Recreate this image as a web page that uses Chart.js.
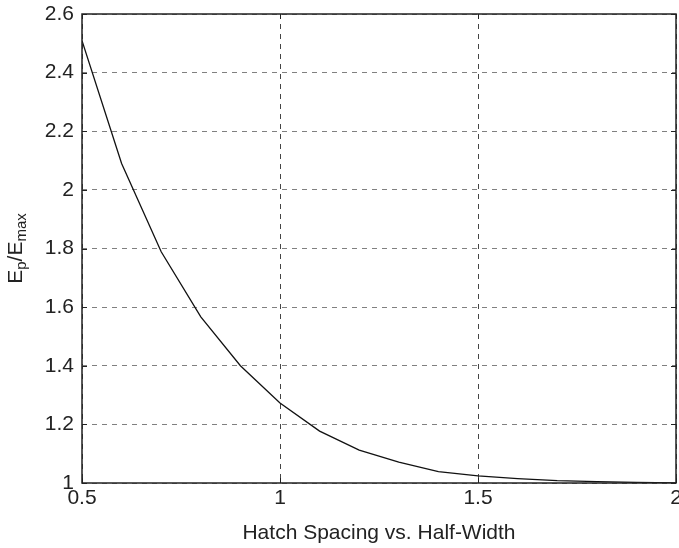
<!DOCTYPE html>
<html>
<head>
<meta charset="utf-8">
<script src="https://cdn.jsdelivr.net/npm/chart.js@4/dist/chart.umd.min.js"></script>
<style>
html,body{margin:0;padding:0;background:#fff;}
#wrap{width:679px;height:548px;position:relative;}
</style>
</head>
<body>
<div id="wrap"><canvas id="c" width="679" height="548"></canvas></div>
<script>
// Data
const hatchSpacing = [0.5, 0.6, 0.7, 0.8, 0.9, 1.0, 1.1, 1.2, 1.3, 1.4, 1.5, 1.6, 1.7, 1.8, 1.9, 2.0];
const fieldRatio   = [2.509, 2.09, 1.789, 1.567, 1.40, 1.273, 1.177, 1.112, 1.071, 1.039, 1.024, 1.015, 1.008, 1.005, 1.002, 1.0];
const xTickValues = [0.5, 1, 1.5, 2];
const yTickValues = [1, 1.2, 1.4, 1.6, 1.8, 2, 2.2, 2.4, 2.6];
const xAxisTitle = 'Hatch Spacing vs. Half-Width';
const yTitleParts = [['E', false], ['p', true], ['/E', false], ['max', true]];

const FONT = '"Liberation Sans", Arial, Helvetica, sans-serif';

const boxPlugin = {
  id: 'box',
  afterDraw(chart) {
    const {ctx, chartArea: a, scales} = chart;
    ctx.save();
    // inward tick marks
    ctx.strokeStyle = '#222';
    ctx.lineWidth = 1;
    const tl = 5;
    xTickValues.forEach(v => {
      const px = Math.round(scales.x.getPixelForValue(v)) + 0.5;
      ctx.beginPath();
      ctx.moveTo(px, a.bottom); ctx.lineTo(px, a.bottom - tl);
      ctx.moveTo(px, a.top); ctx.lineTo(px, a.top + tl);
      ctx.stroke();
    });
    yTickValues.forEach(v => {
      const py = Math.round(scales.y.getPixelForValue(v)) + 0.5;
      ctx.beginPath();
      ctx.moveTo(a.left, py); ctx.lineTo(a.left + tl, py);
      ctx.moveTo(a.right, py); ctx.lineTo(a.right - tl, py);
      ctx.stroke();
    });
    // box
    ctx.lineWidth = 1.5;
    ctx.strokeStyle = '#222';
    ctx.strokeRect(a.left, a.top, a.right - a.left, a.bottom - a.top);
    // y axis title with subscripts
    const mainSize = 21, subSize = 15;
    ctx.fillStyle = '#222';
    ctx.textBaseline = 'alphabetic';
    ctx.textAlign = 'left';
    let total = 0;
    yTitleParts.forEach(([t, sub]) => {
      ctx.font = (sub ? subSize : mainSize) + 'px ' + FONT;
      total += ctx.measureText(t).width;
    });
    const cy = (a.top + a.bottom) / 2;
    ctx.translate(22, cy);
    ctx.rotate(-Math.PI / 2);
    let xpos = -total / 2;
    yTitleParts.forEach(([t, sub]) => {
      ctx.font = (sub ? subSize : mainSize) + 'px ' + FONT;
      ctx.fillText(t, xpos, sub ? 4 : 0);
      xpos += ctx.measureText(t).width;
    });
    ctx.restore();
  }
};

new Chart(document.getElementById('c'), {
  type: 'line',
  data: {
    datasets: [{
      data: hatchSpacing.map((x, i) => ({x: x, y: fieldRatio[i]})),
      borderColor: '#111',
      borderWidth: 1.3,
      pointRadius: 0,
      tension: 0,
      fill: false
    }]
  },
  options: {
    responsive: false,
    animation: false,
    devicePixelRatio: 1,
    layout: {padding: {top: 14, right: 3, bottom: 0, left: 0}},
    plugins: {legend: {display: false}, tooltip: {enabled: false}},
    scales: {
      x: {
        type: 'linear',
        min: 0.5, max: 2,
        afterBuildTicks(scale) { scale.ticks = xTickValues.map(v => ({value: v})); },
        afterFit(scale) { scale.height = 65; scale.paddingLeft = 0; scale.paddingRight = 0; },
        ticks: {
          font: {family: FONT, size: 21},
          color: '#222',
          padding: 3,
          maxRotation: 0,
          callback: v => String(v)
        },
        grid: {color: '#444', lineWidth: 1, drawTicks: false},
        border: {display: false, dash: [5, 5]},
        title: {
          display: true,
          text: xAxisTitle,
          font: {family: FONT, size: 21},
          color: '#222',
          padding: {top: 0, bottom: 2}
        }
      },
      y: {
        type: 'linear',
        min: 1, max: 2.6,
        afterBuildTicks(scale) { scale.ticks = yTickValues.map(v => ({value: v})); },
        afterFit(scale) { scale.width = 82; scale.paddingTop = 0; scale.paddingBottom = 0; },
        ticks: {
          font: {family: FONT, size: 21},
          color: '#222',
          padding: 8,
          callback: v => String(Math.round(v * 10) / 10)
        },
        grid: {color: '#808080', lineWidth: 1, drawTicks: false},
        border: {display: false, dash: [5, 5]}
      }
    }
  },
  plugins: [boxPlugin]
});
</script>
</body>
</html>
